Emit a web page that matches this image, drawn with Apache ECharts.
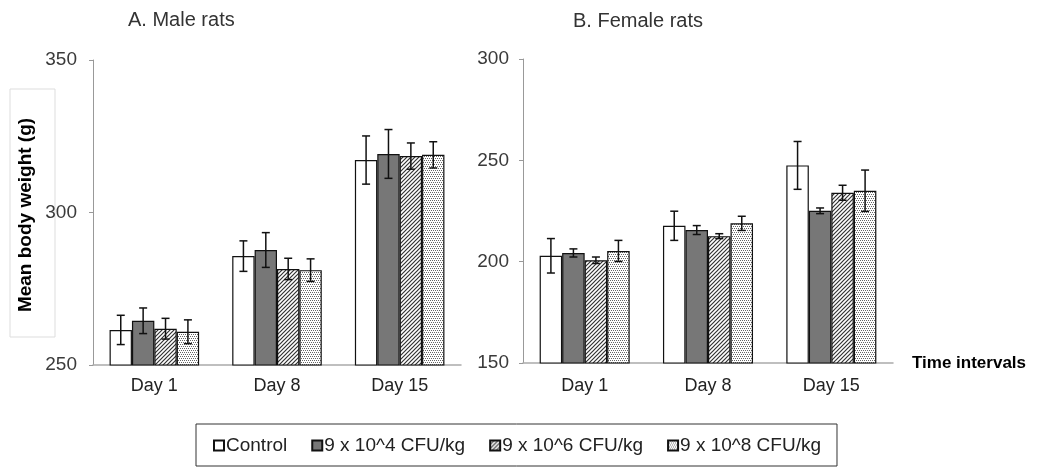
<!DOCTYPE html>
<html>
<head>
<meta charset="utf-8">
<script src="https://cdn.jsdelivr.net/npm/echarts@6/dist/echarts.min.js"></script>
<style>html,body{margin:0;padding:0;background:#fff;}#c{width:1039px;height:474px;}</style>
</head>
<body>
<div id="c"></div>
<script>
// ---- data ----
const days = ['Day 1', 'Day 8', 'Day 15'];
const groups = ['Control', '9 x 10^4 CFU/kg', '9 x 10^6 CFU/kg', '9 x 10^8 CFU/kg'];
const maleTicks = [250, 300, 350];
const femaleTicks = [150, 200, 250, 300];

const maleControl = [261.5, 285.7, 317.2];
const maleControlErr = [4.8, 5.0, 7.9];
const maleDose4 = [264.5, 287.7, 319.2];
const maleDose4Err = [4.2, 5.7, 8.0];
const maleDose6 = [261.9, 281.5, 318.5];
const maleDose6Err = [3.4, 3.5, 4.3];
const maleDose8 = [260.9, 281.1, 318.9];
const maleDose8Err = [3.9, 3.7, 4.3];

const femaleControl = [202.9, 217.7, 247.5];
const femaleControlErr = [8.5, 7.2, 11.8];
const femaleDose4 = [204.3, 215.6, 225.1];
const femaleDose4Err = [2.0, 2.2, 1.4];
const femaleDose6 = [200.7, 212.6, 234.0];
const femaleDose6Err = [1.6, 1.2, 3.7];
const femaleDose8 = [205.3, 218.9, 235.0];
const femaleDose8Err = [5.2, 3.5, 10.2];

// ---- patterns ----
function hatchPattern() {
  const c = document.createElement('canvas');
  c.width = 4; c.height = 4;
  const g = c.getContext('2d');
  g.fillStyle = '#fff'; g.fillRect(0, 0, 4, 4);
  g.strokeStyle = '#333'; g.lineWidth = 1.2;
  g.beginPath();
  g.moveTo(-1, 5); g.lineTo(5, -1);
  g.moveTo(-1, 1); g.lineTo(1, -1);
  g.moveTo(3, 5); g.lineTo(5, 3);
  g.stroke();
  return c;
}
function dotPattern() {
  const c = document.createElement('canvas');
  c.width = 4; c.height = 4;
  const g = c.getContext('2d');
  g.fillStyle = '#fff'; g.fillRect(0, 0, 4, 4);
  g.fillStyle = '#666';
  g.fillRect(0, 0, 1, 1);
  g.fillRect(2, 0, 1, 1);
  g.fillRect(1, 2, 1, 1);
  g.fillRect(3, 2, 1, 1);
  return c;
}
const fills = [
  '#ffffff',
  '#777777',
  { image: hatchPattern(), repeat: 'repeat' },
  { image: dotPattern(), repeat: 'repeat' }
];

const FONT = 'Liberation Sans, Arial, sans-serif';
const maleSets = [[maleControl, maleControlErr], [maleDose4, maleDose4Err], [maleDose6, maleDose6Err], [maleDose8, maleDose8Err]];
const femaleSets = [[femaleControl, femaleControlErr], [femaleDose4, femaleDose4Err], [femaleDose6, femaleDose6Err], [femaleDose8, femaleDose8Err]];
const GAP = 0.27;

function errSeries(axisIdx, gi, vals, errs) {
  return {
    type: 'custom',
    xAxisIndex: axisIdx, yAxisIndex: axisIdx,
    z: 5, silent: true,
    data: vals.map((v, i) => [i, v, errs[i]]),
    encode: { x: 0, y: 1 },
    renderItem: function (params, api) {
      const band = api.size([1, 0])[0];
      const bw = band * (1 - GAP) / 4;
      const off = (gi - 1.5) * bw;
      const hi = api.coord([api.value(0), api.value(1) + api.value(2)]);
      const lo = api.coord([api.value(0), api.value(1) - api.value(2)]);
      const x = hi[0] + off;
      const cw = 4;
      const st = { stroke: '#111', lineWidth: 1.5 };
      return {
        type: 'group',
        children: [
          { type: 'line', shape: { x1: x, y1: hi[1], x2: x, y2: lo[1] }, style: st },
          { type: 'line', shape: { x1: x - cw, y1: hi[1], x2: x + cw, y2: hi[1] }, style: st },
          { type: 'line', shape: { x1: x - cw, y1: lo[1], x2: x + cw, y2: lo[1] }, style: st }
        ]
      };
    }
  };
}

const series = [];
[maleSets, femaleSets].forEach((sets, ai) => {
  sets.forEach((s, gi) => {
    series.push({
      type: 'bar', name: groups[gi],
      xAxisIndex: ai, yAxisIndex: ai,
      data: s[0],
      barGap: '0%', barCategoryGap: (GAP * 100) + '%',
      itemStyle: { color: fills[gi], borderColor: '#111', borderWidth: 1.2 }
    });
  });
  sets.forEach((s, gi) => series.push(errSeries(ai, gi, s[0], s[1])));
});

function yAxis(gi, ticks, margin) {
  return {
    type: 'value', gridIndex: gi,
    min: ticks[0], max: ticks[ticks.length - 1], interval: 50,
    splitLine: { show: false },
    axisLine: { show: true, lineStyle: { color: '#999', width: 1 } },
    axisTick: { show: true, length: 4, lineStyle: { color: '#999' } },
    axisLabel: { fontFamily: FONT, fontSize: 19, color: '#3a3a3a', margin: margin }
  };
}
function xAxis(gi, margin) {
  return {
    type: 'category', gridIndex: gi, data: days,
    axisLine: { lineStyle: { color: '#aaa', width: 1.5 } },
    axisTick: { show: false },
    axisLabel: { fontFamily: FONT, fontSize: 18, color: '#222', margin: margin }
  };
}

const chart = echarts.init(document.getElementById('c'), null, { renderer: 'canvas' });
chart.setOption({
  backgroundColor: '#fff',
  animation: false,
  title: [
    { text: 'A. Male rats', left: 128, top: 10, padding: 0, textStyle: { fontFamily: FONT, fontSize: 20, fontWeight: 'normal', color: '#333' } },
    { text: 'B. Female rats', left: 573, top: 11, padding: 0, textStyle: { fontFamily: FONT, fontSize: 20, fontWeight: 'normal', color: '#333' } }
  ],
  grid: [
    { left: 93, top: 60, width: 368, height: 305 },
    { left: 523, top: 59, width: 370, height: 304 }
  ],
  xAxis: [xAxis(0, 12), xAxis(1, 14)],
  yAxis: [yAxis(0, maleTicks, 16), yAxis(1, femaleTicks, 14)],
  legend: {
    data: groups,
    left: 196, top: 424,
    padding: [12, 16, 11, 17],
    borderColor: '#333', borderWidth: 1,
    itemWidth: 10, itemHeight: 10, itemGap: 24,
    icon: 'rect',
    textStyle: { fontFamily: FONT, fontSize: 19, color: '#222', padding: [0, 0, 0, -3] }
  },
  graphic: [
    { type: 'rect', shape: { x: 10, y: 89, width: 45, height: 248 }, style: { fill: 'none', stroke: '#ddd', lineWidth: 1 } },
    { type: 'text', x: 26, y: 215, rotation: Math.PI / 2, style: { text: 'Mean body weight (g)', font: 'bold 19px ' + FONT, fill: '#000', textAlign: 'center', textVerticalAlign: 'middle' } },
    { type: 'text', x: 912, y: 363, style: { text: 'Time intervals', font: 'bold 17px ' + FONT, fill: '#000', textAlign: 'left', textVerticalAlign: 'middle' } }
  ],
  series: series
});
</script>
</body>
</html>
